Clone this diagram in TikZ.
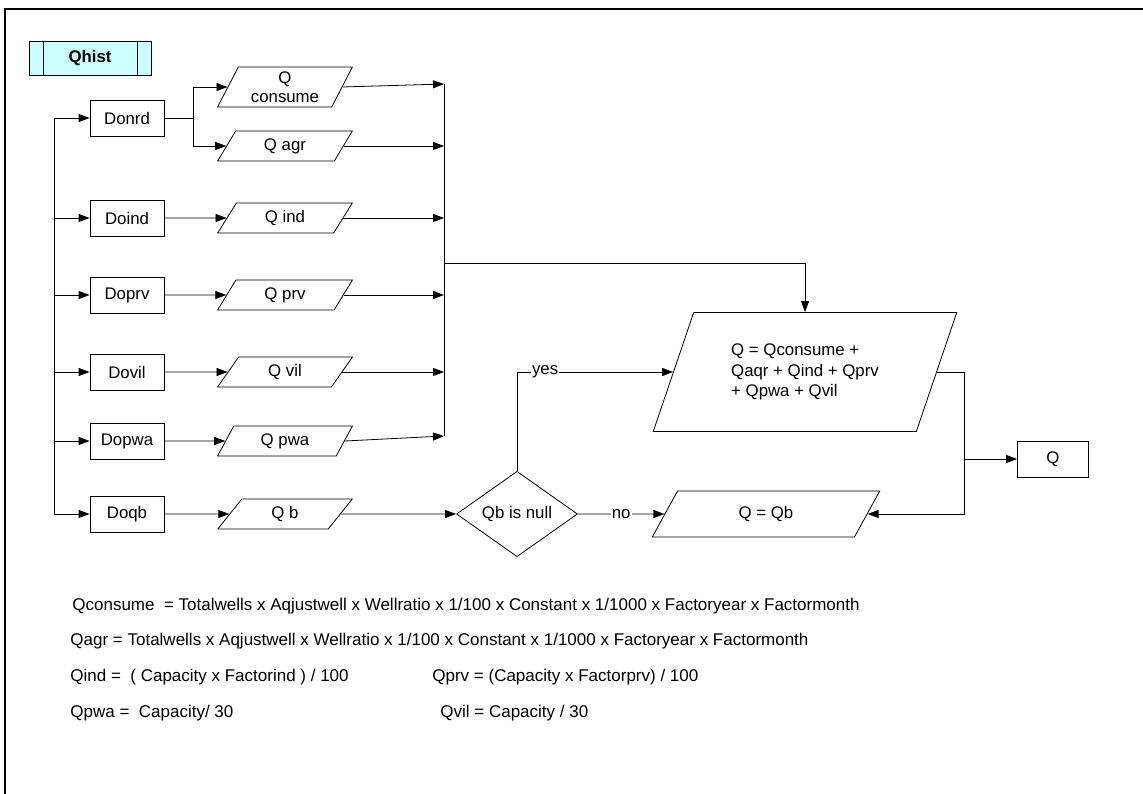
\documentclass[tikz,border=0pt]{standalone}
\usepackage{fontspec}
\setmainfont{Liberation Sans}
\usetikzlibrary{positioning,shapes.geometric,arrows.meta}
\definecolor{paleaqua}{HTML}{CCFFFF}

\begin{document}
\begin{tikzpicture}[x=1pt,y=-1pt, line width=0.8pt,
      font=\fontsize{16.8}{19.5}\selectfont,
      proc/.style={rectangle, draw, minimum width=74pt, minimum height=36pt, inner sep=2pt},
      data/.style={trapezium, trapezium left angle=65, trapezium right angle=115, trapezium stretches=true, draw, minimum width=135pt, minimum height=30pt, inner sep=1pt, align=center},
      cond/.style={diamond, draw, minimum width=121pt, minimum height=70pt, inner sep=0pt},
      flow/.style={-{Triangle[length=11pt,width=8pt]}},
      note/.style={anchor=west, inner sep=0pt, font=\fontsize{17}{20}\selectfont},
      lbl/.style={fill=white, inner sep=1pt}
      ]
      \useasboundingbox (0,0) rectangle (1143,794);
      \draw[line width=1.3pt] (1143,9) -- (5,9) -- (5,794);

      % title
      \node[rectangle, draw, fill=paleaqua, minimum width=122pt, minimum height=34pt, font=\fontsize{16.8}{19.5}\selectfont\bfseries] (QHIST) at (90,58) {Qhist};
      \draw ([xshift=15pt]QHIST.north west) -- ([xshift=15pt]QHIST.south west);
      \draw ([xshift=-14pt]QHIST.north east) -- ([xshift=-14pt]QHIST.south east);

      % demand boxes
      \node[proc] (DONRD) at (127,118) {Donrd};
      \node[proc] (DOIND) at (127,218) {Doind};
      \node[proc] (DOPRV) at (127,295) {Doprv};
      \node[proc] (DOVIL) at (127,372) {Dovil};
      \node[proc] (DOPWA) at (127,441) {Dopwa};
      \node[proc] (DOQB) at (127,514) {Doqb};

      % quantities
      \node[data, minimum height=40pt] (QCON) at (285,87) {Q\\consume};
      \node[data] (QAGR) at (285,146) {Q agr};
      \node[data] (QIND) at (285,218) {Q ind};
      \node[data] (QPRV) at (285,295) {Q prv};
      \node[data] (QVIL) at (285,372) {Q vil};
      \node[data] (QPWA) at (285,441) {Q pwa};
      \node[data] (QB) at (285,514) {Q b};

      \node[cond] (NULL) at (517,514) {Qb is null};
      \node[data, minimum width=304pt, minimum height=119pt, align=left, font=\fontsize{16.8}{20.5}\selectfont] (QSUM) at (805,372) {Q = Qconsume +\\Qaqr + Qind + Qprv\\+ Qpwa + Qvil};
      \node[data, minimum width=228pt, minimum height=46pt] (QEQB) at (766,514) {Q = Qb};
      \node[proc, minimum width=71pt] (QOUT) at (1053,459) {Q};

      \coordinate (TRUNK) at (54,118);
      \coordinate (TRUNKB) at (54,514);
      \coordinate (SPLIT) at (193,118);
      \coordinate (MTOP) at (444,84);
      \coordinate (MBOT) at (444,436);
      \coordinate (MOUT) at (444,263);
      \coordinate (RJOIN) at (964,459);

      % left trunk
      \draw (TRUNK) -- (TRUNKB);
      \draw[flow] (TRUNK) -- (DONRD.west);
      \draw[flow] (DOIND.west -| TRUNK) -- (DOIND.west);
      \draw[flow] (DOPRV.west -| TRUNK) -- (DOPRV.west);
      \draw[flow] (DOVIL.west -| TRUNK) -- (DOVIL.west);
      \draw[flow] (DOPWA.west -| TRUNK) -- (DOPWA.west);
      \draw[flow] (TRUNKB) -- (DOQB.west);

      \draw (DONRD.east) -- (SPLIT);
      \draw[flow] (SPLIT) |- (QCON.west);
      \draw[flow] (SPLIT) |- (QAGR.west);
      \draw[flow] (DOIND.east) -- (QIND.west);
      \draw[flow] (DOPRV.east) -- (QPRV.west);
      \draw[flow] (DOVIL.east) -- (QVIL.west);
      \draw[flow] (DOPWA.east) -- (QPWA.west);
      \draw[flow] (DOQB.east) -- (QB.west);

      % merge
      \draw (MTOP) -- (MBOT);
      \draw[flow] (QCON.east) -- (MTOP);
      \draw[flow] (QAGR.east) -- (QAGR.east -| MTOP);
      \draw[flow] (QIND.east) -- (QIND.east -| MTOP);
      \draw[flow] (QPRV.east) -- (QPRV.east -| MTOP);
      \draw[flow] (QVIL.east) -- (QVIL.east -| MTOP);
      \draw[flow] (QPWA.east) -- (MBOT);
      \draw[flow] (MOUT) -| (QSUM.north);

      \draw[flow] (QB.east) -- (NULL.west);
      \draw[flow] (NULL.north) |- node[lbl, pos=0.59] {yes} (QSUM.west);
      \draw[flow] (NULL.east) -- node[lbl] {no} (QEQB.west);

      \draw (QSUM.east) -| (RJOIN);
      \draw[flow] (RJOIN) |- (QEQB.east);
      \draw[flow] (RJOIN) -- (QOUT.west);

      % formulas
      \node[note] (EQCON) at (72,606) {Qconsume\ \ = Totalwells x Aqjustwell x Wellratio x 1/100 x Constant x 1/1000 x Factoryear x Factormonth};
      \node[note] (EQAGR) at (70,641) {Qagr = Totalwells x Aqjustwell x Wellratio x 1/100 x Constant x 1/1000 x Factoryear x Factormonth};
      \node[note] (EQIND) at (70,677) {Qind =\ \ ( Capacity x Factorind ) / 100};
      \node[note] (EQPRV) at (432,677) {Qprv = (Capacity x Factorprv) / 100};
      \node[note] (EQPWA) at (70,713) {Qpwa =\ \ Capacity/ 30};
      \node[note] (EQVIL) at (440,713) {Qvil = Capacity / 30};
    \end{tikzpicture}
\end{document}
